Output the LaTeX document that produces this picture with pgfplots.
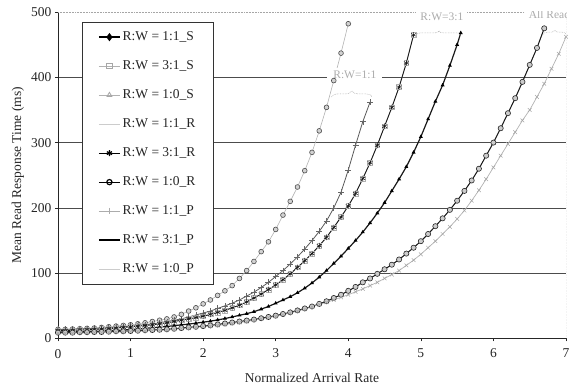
\documentclass[border=0pt]{standalone}
\usepackage{fontspec}
\setmainfont{Liberation Serif}
\usepackage{pgfplots}
\pgfplotsset{compat=1.18}
\usepackage{pgfplotstable}
\usetikzlibrary{decorations.pathreplacing}

% R:W = 1:1 (S and R coincide)
\pgfplotstableread{
x y
0 14
0.1 14
0.2 14.5
0.3 15
0.4 15.5
0.5 16
0.6 17
0.7 18
0.8 19
0.9 20
1.0 21
1.1 22.5
1.2 24
1.3 26
1.4 28
1.5 30
1.6 33
1.7 37
1.8 42
1.9 47
2.0 53
2.1 59
2.2 66
2.3 73
2.4 81
2.5 92
2.6 104
2.7 118
2.8 133
2.9 148
3.0 167
3.1 189
3.2 210
3.3 232
3.4 257
3.5 285
3.6 318
3.7 354
3.8 395
3.9 437
4.0 482
}\tA
% R:W = 1:1_P
\pgfplotstableread{
x y
0 14
0.1 14
0.2 14.5
0.3 15
0.4 15
0.5 15.5
0.6 16
0.7 16.5
0.8 17
0.9 18
1.0 19
1.1 20
1.2 21
1.3 22.5
1.4 24
1.5 26
1.6 28
1.7 30
1.8 33
1.9 36
2.0 39
2.1 42
2.2 46
2.3 50
2.4 54
2.5 59
2.6 65
2.7 71
2.8 78
2.9 86
3.0 95
3.1 104
3.2 114
3.3 125
3.4 137
3.5 150
3.6 164
3.7 180
3.8 200
3.9 224
4.0 258
4.1 296
4.2 332
4.3 362
}\tB
% R:W = 3:1 (S and R coincide)
\pgfplotstableread{
x y
0 12
0.1 12
0.2 12.5
0.3 13
0.4 13.5
0.5 14
0.6 14.5
0.7 15
0.8 16
0.9 17
1.0 18
1.1 19
1.2 20
1.3 21
1.4 22.5
1.5 24
1.6 26
1.7 28
1.8 30
1.9 32
2.0 34
2.1 37
2.2 40
2.3 43
2.4 47
2.5 51
2.6 56
2.7 62
2.8 68
2.9 75
3.0 82
3.1 90
3.2 99
3.3 109
3.4 119
3.5 130
3.6 142
3.7 155
3.8 170
3.9 186
4.0 203
4.1 222
4.2 245
4.3 269
4.4 296
4.5 325
4.6 354
4.7 385
4.8 422
4.9 465
}\tC
% R:W = 3:1_P
\pgfplotstableread{
x y
0 10
0.1 10
0.2 10.5
0.3 10.5
0.4 11
0.5 11
0.6 11.5
0.7 12
0.8 12.5
0.9 13
1.0 14
1.1 14.5
1.2 15.5
1.3 16.5
1.4 17.5
1.5 18.5
1.6 19.5
1.7 21
1.8 22
1.9 23.5
2.0 25
2.1 26.5
2.2 28.5
2.3 30.5
2.4 33
2.5 35.5
2.6 38
2.7 41
2.8 45
2.9 49
3.0 54
3.1 59
3.2 64
3.3 70
3.4 77
3.5 85
3.6 94
3.7 104
3.8 115
3.9 126
4.0 138
4.1 150
4.2 163
4.3 177
4.4 192
4.5 208
4.6 226
4.7 244
4.8 263
4.9 285
5.0 309
5.1 336
5.2 363
5.3 388
5.4 418
5.5 450
5.55 468
}\tD
% R:W = 1:0 (S and R coincide)
\pgfplotstableread{
x y
0 9
0.1 9
0.2 9
0.3 9.5
0.4 9.5
0.5 10
0.6 10
0.7 10.5
0.8 11
0.9 11
1.0 11.5
1.1 12
1.2 12.5
1.3 13
1.4 13.5
1.5 14
1.6 15
1.7 16
1.8 17
1.9 18
2.0 19
2.1 20
2.2 21.5
2.3 23
2.4 24.5
2.5 26
2.6 27.5
2.7 29
2.8 31
2.9 33
3.0 35
3.1 37.5
3.2 40
3.3 43
3.4 46
3.5 49
3.6 53
3.7 57
3.8 62
3.9 67
4.0 73
4.1 79
4.2 86
4.3 92
4.4 99
4.5 106
4.6 113
4.7 121
4.8 130
4.9 139
5.0 149
5.1 160
5.2 172
5.3 184
5.4 197
5.5 211
5.6 226
5.7 242
5.8 260
5.9 280
6.0 300
6.1 322
6.2 345
6.3 368
6.4 393
6.5 419
6.6 445
6.7 475
}\tE
% R:W = 1:0_P
\pgfplotstableread{
x y
0 8
0.1 8
0.2 8
0.3 8.5
0.4 8.5
0.5 9
0.6 9
0.7 9.5
0.8 10
0.9 10
1.0 10.5
1.1 11
1.2 11.5
1.3 12
1.4 12.5
1.5 13
1.6 14
1.7 15
1.8 16
1.9 17
2.0 18
2.1 19
2.2 20
2.3 21.5
2.4 23
2.5 24.5
2.6 26
2.7 28
2.8 30
2.9 32
3.0 34
3.1 36.5
3.2 39
3.3 42
3.4 45
3.5 48.5
3.6 52
3.7 55.5
3.8 59
3.9 63
4.0 67
4.1 71.5
4.2 76
4.3 81
4.4 86
4.5 92
4.6 98
4.7 104
4.8 112
4.9 120
5.0 129
5.1 139
5.2 149
5.3 160
5.4 171
5.5 183
5.6 196
5.7 211
5.8 227
5.9 244
6.0 262
6.1 280
6.2 298
6.3 316
6.4 334
6.5 350
6.6 370
6.7 390
6.8 413
6.9 436
7.0 462
}\tF

\newcommand{\fs}{\fontsize{13.5}{16}\selectfont}

\begin{document}
\begin{tikzpicture}[x=1pt,y=1pt]
\useasboundingbox (0,0) rectangle (570,387);
\begin{axis}[
  at={(58pt,48.5pt)}, anchor=south west,
  scale only axis, width=508pt, height=326.5pt,
  xmin=0, xmax=7, ymin=0, ymax=500,
  xtick={0,1,...,7}, ytick={0,100,200,300,400},
  extra y ticks={500},
  extra y tick style={ymajorgrids=true, major grid style={gray!70, densely dotted, line width=0.6pt}},
  axis x line*=bottom, axis y line*=left,
  axis line style={black!85, line width=0.6pt},
  ymajorgrids=true,
  major grid style={black!70, line width=0.55pt},
  tick align=outside, major tick length=3pt,
  tick style={black!85, line width=0.5pt},
  /pgf/number format/assume math mode=true,
  ticklabel style={font=\fs, text=black!85},
  xticklabel style={yshift=-4pt},
  xlabel={Normalized Arrival Rate},
  ylabel={Mean Read Response Time (ms)},
  label style={font=\fs, text=black!85},
  xlabel style={at={(axis description cs:0.5,-0.121)}, anchor=center},
  ylabel style={at={(axis description cs:-0.079,0.5)}, anchor=center},
  legend style={at={(axis description cs:0.0472,0.969)}, anchor=north west,
    draw=black!80, line width=0.5pt, fill=white, font=\fs, text=black!85,
    inner xsep=16pt, inner ysep=6.5pt, row sep=12.5pt,
    nodes={inner sep=2pt, text height=9.5pt, text depth=3pt},
    cells={anchor=west}},
  legend image code/.code={%
    \draw[mark repeat=2,mark phase=2,#1] plot coordinates {(0pt,0pt) (10.5pt,0pt) (21pt,0pt)};},
]
% legend entries
\addlegendimage{black, line width=1.4pt, mark=diamond*, mark size=3pt, mark options={solid, fill=black}}
\addlegendentry{R:W = 1:1\_S}
\addlegendimage{gray!60, line width=0.8pt, mark=square, mark size=2.6pt, mark options={solid, gray!70}}
\addlegendentry{R:W = 3:1\_S}
\addlegendimage{gray!60, line width=0.8pt, mark=triangle, mark size=2.8pt, mark options={solid, gray!70}}
\addlegendentry{R:W = 1:0\_S}
\addlegendimage{gray!40, line width=0.8pt}
\addlegendentry{R:W = 1:1\_R}
\addlegendimage{black, line width=1.2pt, mark=asterisk, mark size=3pt, mark options={solid, black}}
\addlegendentry{R:W = 3:1\_R}
\addlegendimage{black, line width=1.2pt, mark=o, mark size=2.6pt, mark options={solid, black}}
\addlegendentry{R:W = 1:0\_R}
\addlegendimage{gray!65, line width=0.8pt, mark=+, mark size=3.2pt, mark options={solid, gray!65}}
\addlegendentry{R:W = 1:1\_P}
\addlegendimage{black, line width=1.4pt}
\addlegendentry{R:W = 3:1\_P}
\addlegendimage{gray!40, line width=0.8pt}
\addlegendentry{R:W = 1:0\_P}

% curves
\addplot[forget plot, gray!60, line width=0.6pt, mark=*, mark size=2.4pt,
  mark options={fill=gray!35, draw=black!70, line width=0.6pt}] table[x=x,y=y] {\tA};
\addplot[forget plot, black!65, line width=0.8pt, mark=+, mark size=3pt,
  mark options={black!60, line width=0.6pt}] table[x=x,y=y] {\tB};
\addplot[forget plot, gray!60, line width=0.6pt, mark=square, mark size=2.4pt,
  mark options={gray!60, line width=0.5pt}] table[x=x,y=y] {\tC};
\addplot[forget plot, black!90, line width=0.9pt, mark=asterisk, mark size=2.8pt,
  mark options={black!90, line width=0.5pt}] table[x=x,y=y] {\tC};
\addplot[forget plot, black!90, line width=1.2pt, mark=triangle*, mark size=1.1pt,
  mark options={black}] table[x=x,y=y] {\tD};
\addplot[forget plot, gray!60, line width=0.5pt, mark=triangle, mark size=2.4pt,
  mark options={gray!60}] table[x=x,y=y] {\tE};
\addplot[forget plot, black!90, line width=1.0pt, mark=*, mark size=2.6pt,
  mark options={fill=gray!40, draw=black!85, line width=0.6pt}] table[x=x,y=y] {\tE};
\addplot[forget plot, gray!60, line width=0.7pt, mark=x, mark size=2.6pt,
  mark options={gray!70, line width=0.5pt}] table[x=x,y=y] {\tF};

% group annotations
\draw[gray!70, densely dotted, line width=0.6pt, decorate, decoration={brace, amplitude=6pt}]
  (axis cs:3.77,370) -- (axis cs:4.33,370);
\node[fill=white, text=gray!65, font=\fontsize{11.5}{13}\selectfont, inner xsep=6pt, inner ysep=3pt]
  at (axis cs:4.09,404) {R:W=1:1};
\draw[gray!70, densely dotted, line width=0.6pt, decorate, decoration={brace, amplitude=4pt}]
  (axis cs:4.94,465) -- (axis cs:5.56,465);
\node[fill=white, text=gray!65, font=\fontsize{11.5}{13}\selectfont, inner xsep=4pt, inner ysep=3pt]
  at (axis cs:5.29,493) {R:W=3:1};
\draw[gray!70, densely dotted, line width=0.6pt, decorate, decoration={brace, amplitude=4pt}]
  (axis cs:6.69,466) -- (axis cs:7.0,466);
\node[fill=white, text=gray!65, font=\fontsize{11.5}{13}\selectfont, inner xsep=4pt, inner ysep=3pt, anchor=west]
  at (axis cs:6.43,496) {All Read};
\draw[gray!70, densely dotted, line width=0.6pt] (axis cs:7,0) -- (axis cs:7,500);
\end{axis}
\end{tikzpicture}
\end{document}
